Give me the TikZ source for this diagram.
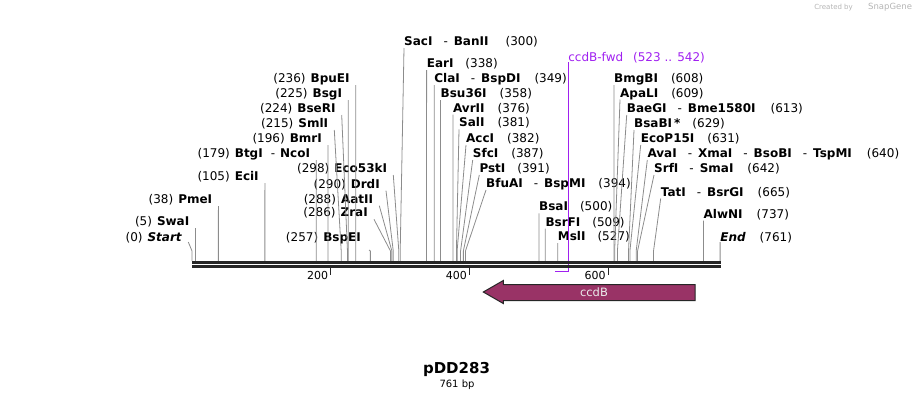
\documentclass[tikz,border=0pt]{standalone}
\usepackage{fontspec}
\setmainfont{DejaVu Sans}
\usepackage{tikz}
\usetikzlibrary{calc}
\usetikzlibrary{positioning}
\definecolor{myblack}{HTML}{262626}
\definecolor{leadgray}{HTML}{8C8C8C}
\definecolor{primer}{HTML}{A020F0}
\definecolor{genefill}{HTML}{993366}
\definecolor{markgray}{HTML}{B4B4B4}
\newcommand{\sitex}[1]{192+0.694*#1}
\newcommand{\dsh}{\hspace{11pt}-\hspace{6pt}}
\tikzset{every node/.style={inner sep=0pt, font=\fontsize{12}{14}\selectfont}}
\tikzstyle{lft} = [anchor=base east]
\tikzstyle{rgt} = [anchor=base west]
\tikzstyle{ln} = [draw=leadgray, line width=0.8pt]
\tikzstyle{bb} = [draw=myblack, line width=2.5pt]
\tikzstyle{tk} = [draw=myblack, line width=1.2pt]
\tikzstyle{scl} = [anchor=east, font=\fontsize{11}{13}\selectfont]
\tikzstyle{pr} = [draw=primer, line width=1pt]
\tikzstyle{gene} = [draw=myblack, fill=genefill, line width=1pt]

\begin{document}
\begin{tikzpicture}[x=1pt, y=-1pt]
  \useasboundingbox (0,0) rectangle (913,400);
  % sites on the backbone
  \coordinate (axis) at (192,261);
  \coordinate (s0) at ({\sitex{0}},251);
  \coordinate (s5) at ({\sitex{5}},251);
  \coordinate (s38) at ({\sitex{38}},251);
  \coordinate (s105) at ({\sitex{105}},251);
  \coordinate (s179) at ({\sitex{179}},251);
  \coordinate (s196) at ({\sitex{196}},251);
  \coordinate (s215) at ({\sitex{215}},251);
  \coordinate (s224) at ({\sitex{224}},251);
  \coordinate (s225) at ({\sitex{225}},251);
  \coordinate (s236) at ({\sitex{236}},251);
  \coordinate (s257) at ({\sitex{257}},251);
  \coordinate (s286) at ({\sitex{286}},251);
  \coordinate (s288) at ({\sitex{288}},251);
  \coordinate (s290) at ({\sitex{290}},251);
  \coordinate (s298) at ({\sitex{298}},251);
  \coordinate (s300) at ({\sitex{300}},251);
  \coordinate (s338) at ({\sitex{338}},251);
  \coordinate (s349) at ({\sitex{349}},251);
  \coordinate (s358) at ({\sitex{358}},251);
  \coordinate (s376) at ({\sitex{376}},251);
  \coordinate (s381) at ({\sitex{381}},251);
  \coordinate (s382) at ({\sitex{382}},251);
  \coordinate (s387) at ({\sitex{387}},251);
  \coordinate (s391) at ({\sitex{391}},251);
  \coordinate (s394) at ({\sitex{394}},251);
  \coordinate (s500) at ({\sitex{500}},251);
  \coordinate (s509) at ({\sitex{509}},251);
  \coordinate (s527) at ({\sitex{527}},251);
  \coordinate (s608) at ({\sitex{608}},251);
  \coordinate (s609) at ({\sitex{609}},251);
  \coordinate (s613) at ({\sitex{613}},251);
  \coordinate (s629) at ({\sitex{629}},251);
  \coordinate (s631) at ({\sitex{631}},251);
  \coordinate (s640) at ({\sitex{640}},251);
  \coordinate (s642) at ({\sitex{642}},251);
  \coordinate (s665) at ({\sitex{665}},251);
  \coordinate (s737) at ({\sitex{737}},251);
  \coordinate (s761) at ({\sitex{761}},251);

  % left labels
  \node[lft] (BpuEI) at (349.8,82.5) {(236)\hspace{5pt}\textbf{BpuEI}};
  \node[lft] (BsgI) at (342.2,97.5) {(225)\hspace{5pt}\textbf{BsgI}};
  \node[lft] (BseRI) at (335.7,112.5) {(224)\hspace{5pt}\textbf{BseRI}};
  \node[lft] (SmlI) at (328.3,127.5) {(215)\hspace{5pt}\textbf{SmlI}};
  \node[lft] (BmrI) at (322,142.5) {(196)\hspace{5pt}\textbf{BmrI}};
  \node[lft] (BtgI) at (310.2,157.5) {(179)\hspace{5pt}\textbf{BtgI}\hspace{8pt}-\hspace{5pt}\textbf{NcoI}};
  \node[lft] (EciI) at (258.9,180.5) {(105)\hspace{5pt}\textbf{EciI}};
  \node[lft] (PmeI) at (212.4,203.5) {(38)\hspace{5pt}\textbf{PmeI}};
  \node[lft] (SwaI) at (189.5,225.5) {(5)\hspace{5pt}\textbf{SwaI}};
  \node[lft] (Start) at (182.3,241) {(0)\hspace{5pt}\textbf{\itshape Start}};
  \node[lft] (Eco53kI) at (387.3,172.5) {(298)\hspace{5pt}\textbf{Eco53kI}};
  \node[lft] (DrdI) at (380,188.2) {(290)\hspace{5pt}\textbf{DrdI}};
  \node[lft] (AatII) at (373.3,203.2) {(288)\hspace{5pt}\textbf{AatII}};
  \node[lft] (ZraI) at (368,216.8) {(286)\hspace{5pt}\textbf{ZraI}};
  \node[lft] (BspEI) at (361,241) {(257)\hspace{5pt}\textbf{BspEI}};

  % middle labels
  \node[rgt] (SacI) at (404,45.5) {\textbf{SacI}\dsh\textbf{BanII}\hspace{17pt}(300)};
  \node[rgt] (EarI) at (426.6,67.5) {\textbf{EarI}\hspace{12pt}(338)};
  \node[rgt] (ClaI) at (434.2,82.5) {\textbf{ClaI}\dsh\textbf{BspDI}\hspace{14pt}(349)};
  \node[rgt] (Bsu36I) at (440.5,97.5) {\textbf{Bsu36I}\hspace{13pt}(358)};
  \node[rgt] (AvrII) at (452.9,112) {\textbf{AvrII}\hspace{13pt}(376)};
  \node[rgt] (SalI) at (459,126.8) {\textbf{SalI}\hspace{13pt}(381)};
  \node[rgt] (AccI) at (466,142.5) {\textbf{AccI}\hspace{13pt}(382)};
  \node[rgt] (SfcI) at (472.7,157.5) {\textbf{SfcI}\hspace{13pt}(387)};
  \node[rgt] (PstI) at (479.3,172.5) {\textbf{PstI}\hspace{12pt}(391)};
  \node[rgt] (BfuAI) at (486,187.5) {\textbf{BfuAI}\dsh\textbf{BspMI}\hspace{13pt}(394)};
  \node[rgt] (BsaI) at (539,210.8) {\textbf{BsaI}\hspace{12pt}(500)};
  \node[rgt] (BsrFI) at (545.3,226) {\textbf{BsrFI}\hspace{12pt}(509)};
  \node[rgt] (MslI) at (557.7,240.5) {\textbf{MslI}\hspace{12pt}(527)};

  % right labels
  \node[rgt] (BmgBI) at (614,82.5) {\textbf{BmgBI}\hspace{13pt}(608)};
  \node[rgt] (ApaLI) at (620,97) {\textbf{ApaLI}\hspace{13pt}(609)};
  \node[rgt] (BaeGI) at (626.7,112.5) {\textbf{BaeGI}\dsh\textbf{Bme1580I}\hspace{15pt}(613)};
  \node[rgt] (BsaBI) at (634,127.5) {\textbf{BsaBI\,*}\hspace{12pt}(629)};
  \node[rgt] (EcoP15I) at (640.7,142.5) {\textbf{EcoP15I}\hspace{13pt}(631)};
  \node[rgt] (AvaI) at (647.3,157.5) {\textbf{AvaI}\dsh\textbf{XmaI}\dsh\textbf{BsoBI}\dsh\textbf{TspMI}\hspace{15pt}(640)};
  \node[rgt] (SrfI) at (654,172.5) {\textbf{SrfI}\dsh\textbf{SmaI}\hspace{14pt}(642)};
  \node[rgt] (TatI) at (660.7,196) {\textbf{TatI}\dsh\textbf{BsrGI}\hspace{14pt}(665)};
  \node[rgt] (AlwNI) at (703.5,218) {\textbf{AlwNI}\hspace{14pt}(737)};
  \node[rgt] (End) at (720.1,241) {\textbf{\itshape End}\hspace{14pt}(761)};

  % leaders
  \draw[ln] ([shift={(6,2.5)}]BpuEI.base east) -- (s236) -- (s236 |- axis);
  \draw[ln] ([shift={(6,2.5)}]BsgI.base east) -- (s225) -- (s225 |- axis);
  \draw[ln] ([shift={(6,2.5)}]BseRI.base east) -- (s224) -- (s224 |- axis);
  \draw[ln] ([shift={(6,2.5)}]SmlI.base east) -- (s215) -- (s215 |- axis);
  \draw[ln] ([shift={(6,2.5)}]BmrI.base east) -- (s196) -- (s196 |- axis);
  \draw[ln] ([shift={(6,2.5)}]BtgI.base east) -- (s179) -- (s179 |- axis);
  \draw[ln] ([shift={(6,2.5)}]EciI.base east) -- (s105) -- (s105 |- axis);
  \draw[ln] ([shift={(6,2.5)}]PmeI.base east) -- (s38) -- (s38 |- axis);
  \draw[ln] ([shift={(6,2.5)}]SwaI.base east) -- (s5) -- (s5 |- axis);
  \draw[ln] ([shift={(6,1)}]Start.base east) -- (s0) -- (s0 |- axis);
  \draw[ln] ([shift={(6,2.5)}]Eco53kI.base east) -- (s298) -- (s298 |- axis);
  \draw[ln] ([shift={(6,2.5)}]DrdI.base east) -- (s290) -- (s290 |- axis);
  \draw[ln] ([shift={(6,2.5)}]AatII.base east) -- (s288) -- (s288 |- axis);
  \draw[ln] ([shift={(6,2.5)}]ZraI.base east) -- (s286) -- (s286 |- axis);
  \draw[ln] ([shift={(8,9)}]BspEI.base east) -- (s257) -- (s257 |- axis);
  \draw[ln] ([shift={(0,2.5)}]SacI.base west) -- (s300) -- (s300 |- axis);
  \draw[ln] ([shift={(0,2.5)}]EarI.base west) -- (s338) -- (s338 |- axis);
  \draw[ln] ([shift={(0,2.5)}]ClaI.base west) -- (s349) -- (s349 |- axis);
  \draw[ln] ([shift={(0,2.5)}]Bsu36I.base west) -- (s358) -- (s358 |- axis);
  \draw[ln] ([shift={(0,2.5)}]AvrII.base west) -- (s376) -- (s376 |- axis);
  \draw[ln] ([shift={(0,2.5)}]SalI.base west) -- (s381) -- (s381 |- axis);
  \draw[ln] ([shift={(0,2.5)}]AccI.base west) -- (s382) -- (s382 |- axis);
  \draw[ln] ([shift={(0,2.5)}]SfcI.base west) -- (s387) -- (s387 |- axis);
  \draw[ln] ([shift={(0,2.5)}]PstI.base west) -- (s391) -- (s391 |- axis);
  \draw[ln] ([shift={(0,2.5)}]BfuAI.base west) -- (s394) -- (s394 |- axis);
  \draw[ln] ([shift={(0,2.5)}]BsaI.base west) -- (s500) -- (s500 |- axis);
  \draw[ln] ([shift={(0,2.5)}]BsrFI.base west) -- (s509) -- (s509 |- axis);
  \draw[ln] ([shift={(0,2.5)}]MslI.base west) -- (s527) -- (s527 |- axis);
  \draw[ln] ([shift={(0,2.5)}]BmgBI.base west) -- (s608) -- (s608 |- axis);
  \draw[ln] ([shift={(0,2.5)}]ApaLI.base west) -- (s609) -- (s609 |- axis);
  \draw[ln] ([shift={(0,2.5)}]BaeGI.base west) -- (s613) -- (s613 |- axis);
  \draw[ln] ([shift={(0,2.5)}]BsaBI.base west) -- (s629) -- (s629 |- axis);
  \draw[ln] ([shift={(0,2.5)}]EcoP15I.base west) -- (s631) -- (s631 |- axis);
  \draw[ln] ([shift={(0,2.5)}]AvaI.base west) -- (s640) -- (s640 |- axis);
  \draw[ln] ([shift={(0,2.5)}]SrfI.base west) -- (s642) -- (s642 |- axis);
  \draw[ln] ([shift={(0,2.5)}]TatI.base west) -- (s665) -- (s665 |- axis);
  \draw[ln] ([shift={(0,2.5)}]AlwNI.base west) -- (s737) -- (s737 |- axis);
  \draw[ln] ([shift={(0,1)}]End.base west) -- (s761) -- (s761 |- axis);

  % primer
  \node[rgt, text=primer] (fwd) at ({\sitex{542}},61) {ccdB-fwd\hspace{10pt}(523 .. 542)};
  \coordinate (p542) at ({\sitex{542}},271);
  \coordinate (p523) at ({\sitex{523}},271);
  \draw[pr] ([yshift=-1pt]fwd.base west) -- (p542) -- (p523);

  % backbone
  \coordinate (top0) at (192,262.3);
  \coordinate (top1) at (721,262.3);
  \draw[bb] (top0) -- (top1);
  \draw[bb] ([yshift=-4.2pt]top0) -- ([yshift=-4.2pt]top1);

  % scale
  \coordinate (t200) at ({\sitex{200}},268);
  \coordinate (t400) at ({\sitex{400}},268);
  \coordinate (t600) at ({\sitex{600}},268);
  \draw[tk] (t200) -- ++(0,6.5);
  \draw[tk] (t400) -- ++(0,6.5);
  \draw[tk] (t600) -- ++(0,6.5);
  \node[scl] (n200) at ([xshift=-2.5pt, yshift=-7pt]t200) {200};
  \node[scl] (n400) at ([xshift=-2.5pt, yshift=-7pt]t400) {400};
  \node[scl] (n600) at ([xshift=-2.5pt, yshift=-7pt]t600) {600};

  % ccdB
  \draw[gene] (483.3,292) -- (503.3,280.5) -- (503.3,284.5) -- (695,284.5) -- (695,300.5) -- (503.3,300.5) -- (503.3,303.5) -- cycle;
  \node[text=white!92!black, font=\fontsize{11.5}{13}\selectfont] (ccdB) at (594,292.5) {ccdB};

  % name
  \node[font=\fontsize{15}{17}\selectfont\bfseries] (name) at (456.5,369) {pDD283};
  \node[font=\fontsize{10}{12}\selectfont] (size) at (457,384.5) {761 bp};

  \node[anchor=east, text=markgray, font=\fontsize{7}{8}\selectfont] (made) at (853,7.5) {Created by};
  \node[anchor=west, text=markgray, font=\fontsize{8.5}{10}\selectfont] (snap) at (868,7.5) {SnapGene};
\end{tikzpicture}
\end{document}
